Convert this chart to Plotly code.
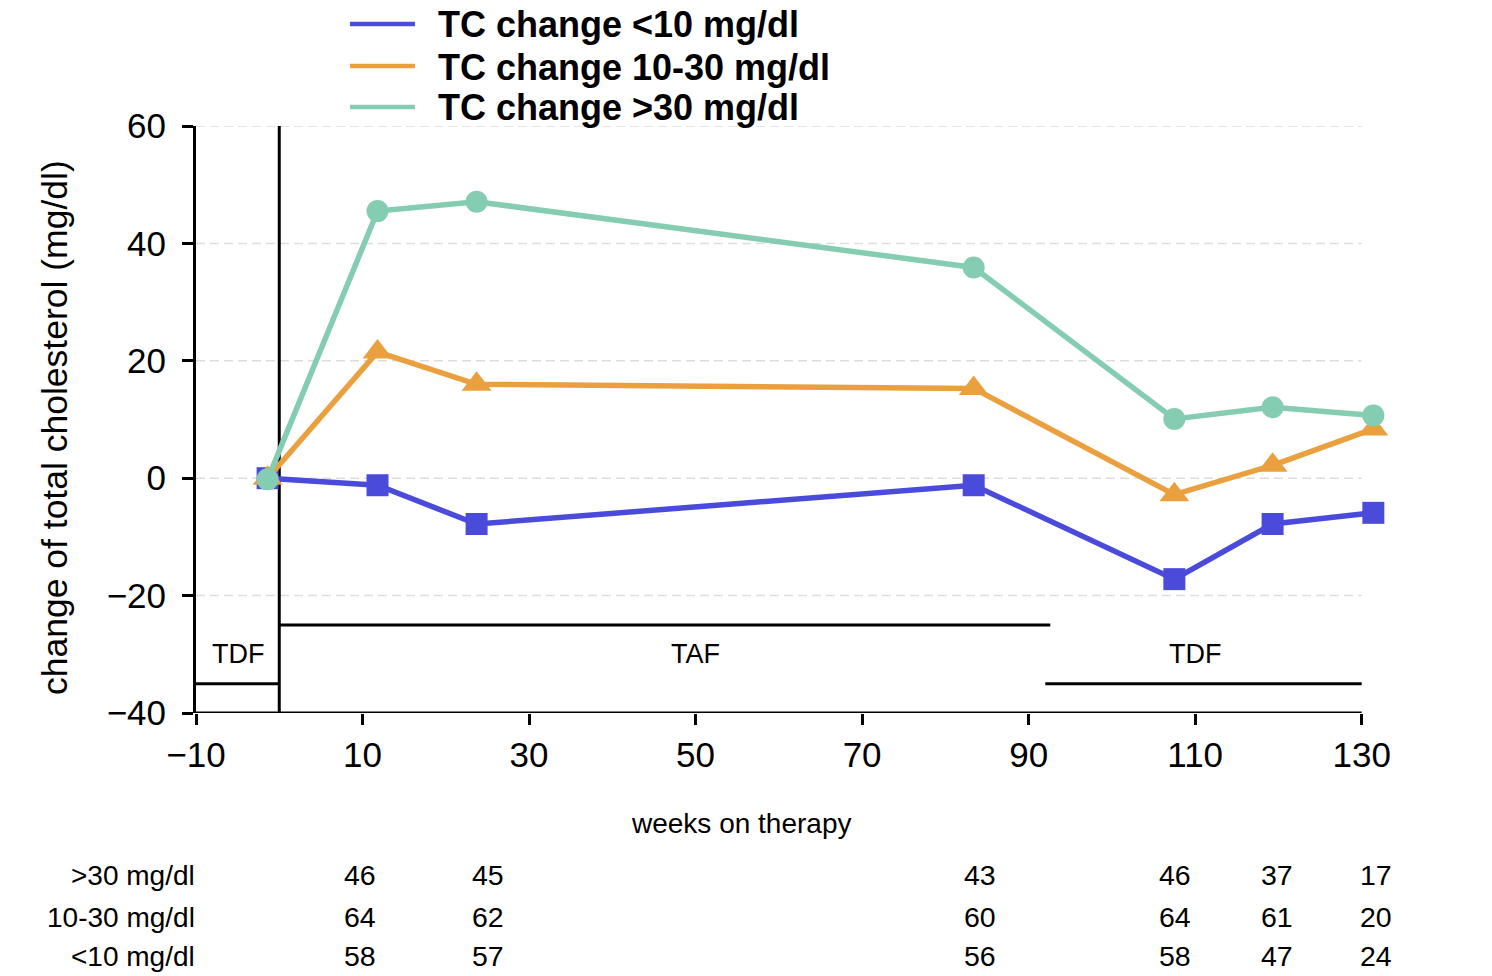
import plotly.graph_objects as go

weeks = [-1.4, 11.8, 23.7, 83.4, 107.5, 119.3, 131.4]
tc_lt10 = [0.0, -1.2, -7.8, -1.2, -17.2, -7.8, -5.9]
tc_10_30 = [0.0, 21.5, 16.0, 15.3, -2.8, 2.2, 8.4]
tc_gt30 = [-0.2, 45.5, 47.1, 35.9, 10.1, 12.1, 10.7]

series_names = ["TC change <10 mg/dl", "TC change 10-30 mg/dl", "TC change >30 mg/dl"]
series_colors = ["#4B4BDB", "#EBA03F", "#84CCB2"]
series_symbols = ["square", "triangle-up", "circle"]

x_ticks = [-10, 10, 30, 50, 70, 90, 110, 130]
y_ticks = [-40, -20, 0, 20, 40, 60]
grid_levels = [-20, 0, 20, 40, 60]

table_cols = [9.7, 25.1, 84.2, 107.6, 119.8, 131.7]
table_rows = [">30 mg/dl", "10-30 mg/dl", "<10 mg/dl"]
n_gt30 = [46, 45, 43, 46, 37, 17]
n_10_30 = [64, 62, 60, 64, 61, 20]
n_lt10 = [58, 57, 56, 58, 47, 24]

# therapy phases: (start, end, level, label, label_x)
phases = [(-10, 0, -35, "TDF", -5), (0, 92.6, -25, "TAF", 50), (92, 130, -35, "TDF", 110)]

FONT = "Arial, Liberation Sans, sans-serif"
OFF = 0  # body margin removed by post_script
W, H = 1492, 976
L, T = 196, 126
B = H - 713
XMIN, XMAX_AXIS, XMAX = -10, 130, 134
PX_PER_UNIT = (1362 - 196) / (XMAX_AXIS - XMIN)
R = W - (L + PX_PER_UNIT * (XMAX - XMIN))
PW = W - L - R
PH = H - T - B


def px(xpage):
    return (xpage - OFF - L) / PW


def py(ypage):
    return (H - B - (ypage - OFF)) / PH


fig = go.Figure()
for name, ys, col, sym in zip(series_names, [tc_lt10, tc_10_30, tc_gt30], series_colors, series_symbols):
    fig.add_trace(go.Scatter(
        x=weeks, y=ys, mode="lines+markers", name=name,
        line=dict(color=col, width=5.5),
        marker=dict(symbol=sym, size=26 if sym == "triangle-up" else 22, color=col),
        cliponaxis=False, showlegend=False,
    ))

shapes = []
annotations = []
# dashed gridlines
for g in grid_levels:
    shapes.append(dict(type="line", xref="x", yref="y", x0=XMIN, x1=XMAX_AXIS, y0=g, y1=g,
                       layer="below", line=dict(color="#DDDDDD", width=1.5, dash="9px,5px")))
# x axis line
shapes.append(dict(type="line", xref="x", yref="y", x0=XMIN, x1=XMAX_AXIS, y0=-40, y1=-40,
                   layer="below", line=dict(color="black", width=3)))
# vertical switch line at x=0
shapes.append(dict(type="line", xref="x", yref="y", x0=0, x1=0, y0=-40, y1=60,
                   layer="below", line=dict(color="black", width=3)))
for x0, x1, lvl, lab, lx in phases:
    shapes.append(dict(type="line", xref="x", yref="y", x0=x0, x1=x1, y0=lvl, y1=lvl,
                       layer="below", line=dict(color="black", width=3)))
    annotations.append(dict(x=lx, y=-30, xref="x", yref="y", text=lab, showarrow=False,
                            font=dict(size=27, color="black", family=FONT)))

# legend drawn manually
leg_y = [24, 66, 107]
for name, col, ly in zip(series_names, series_colors, leg_y):
    shapes.append(dict(type="line", xref="paper", yref="paper",
                       x0=px(350), x1=px(415), y0=py(ly), y1=py(ly),
                       line=dict(color=col, width=4.5)))
    annotations.append(dict(x=px(436), y=py(ly + 1), xref="paper", yref="paper",
                            text="<b>%s</b>" % name,
                            showarrow=False, xanchor="left", yanchor="middle",
                            font=dict(size=36, color="black", family=FONT)))

# axis titles
annotations.append(dict(x=px(741), y=py(823), xref="paper", yref="paper", text="weeks on therapy",
                        showarrow=False, yanchor="middle",
                        font=dict(size=28, color="black", family=FONT)))
annotations.append(dict(x=px(55), y=py(428), xref="paper", yref="paper",
                        text="change of total cholesterol (mg/dl)", textangle=-90,
                        showarrow=False, xanchor="center", yanchor="middle",
                        font=dict(size=35.5, color="black", family=FONT)))

# numbers table
row_py = [875, 917, 956]
for lab, vals, ry in zip(table_rows, [n_gt30, n_10_30, n_lt10], row_py):
    yy = py(ry)
    annotations.append(dict(x=px(197), y=yy, xref="paper", yref="paper", text=lab, showarrow=False,
                            xanchor="right", yanchor="middle",
                            font=dict(size=28, color="black", family=FONT)))
    for cx, v in zip(table_cols, vals):
        annotations.append(dict(x=cx, y=yy, xref="x", yref="paper", text=str(v), showarrow=False,
                                xanchor="center", yanchor="middle",
                                font=dict(size=28.5, color="black", family=FONT)))

fig.update_layout(
    width=W, height=H, autosize=False,
    margin=dict(l=L, r=R, t=T, b=B, pad=0),
    paper_bgcolor="white", plot_bgcolor="white",
    font=dict(family=FONT, color="black"),
    shapes=shapes, annotations=annotations, showlegend=False,
    xaxis=dict(range=[XMIN, XMAX], tickvals=x_ticks,
               showgrid=False, zeroline=False, showline=False,
               ticks="outside", ticklen=11, tickwidth=3, tickcolor="black",
               tickfont=dict(size=35, family=FONT, color="black")),
    yaxis=dict(range=[-40, 60], tickvals=y_ticks,
               showgrid=False, zeroline=False, showline=True, linecolor="black", linewidth=3,
               ticks="outside", ticklen=11, tickwidth=3, tickcolor="black",
               ticklabelstandoff=9,
               tickfont=dict(size=35, family=FONT, color="black")),
)

fig.write_html("out.html", config={"displayModeBar": False},
               post_script="document.body.style.margin='0';document.body.style.overflow='hidden';")
